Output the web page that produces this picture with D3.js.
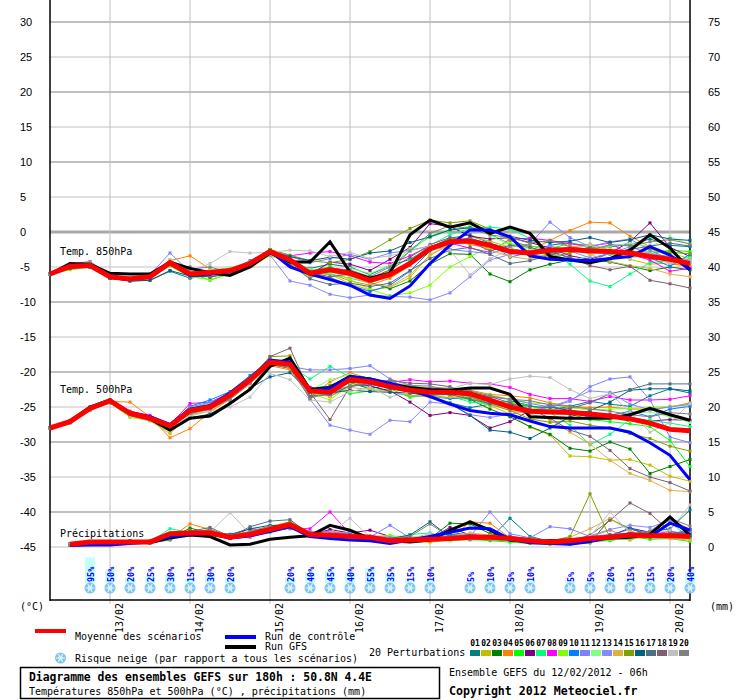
<!DOCTYPE html>
<html><head><meta charset="utf-8">
<script src="https://cdn.jsdelivr.net/npm/d3@7"></script>
<style>
body{margin:0;background:#fff}
svg{display:block}
text{font-family:"DejaVu Sans Mono",monospace}
</style>
</head><body>
<svg id="c" width="740" height="700"></svg>
<script>
// ---------------- DATA ----------------
const hours = d3.range(0, 193, 6);          // 12/02 06h + 0..192h
const precipHours = d3.range(6, 193, 6);
const dayHours = [18, 42, 66, 90, 114, 138, 162, 186];
const dayLabels = ["13/02","14/02","15/02","16/02","17/02","18/02","19/02","20/02"];
const tempTicks = [30,25,20,15,10,5,0,-5,-10,-15,-20,-25,-30,-35,-40,-45];
const precipTicks = [75,70,65,60,55,50,45,40,35,30,25,20,15,10,5,0];

const pertColors = ["#008080","#c0c000","#008000","#ff8000","#00ff00","#800080","#00ff80","#ff00ff","#80ff00","#0080ff",
                    "#8080ff","#80ff80","#8888ff","#e0b040","#80a000","#006080","#507080","#806070","#c0c0c0","#808080"];
const pertNames = ["01","02","03","04","05","06","07","08","09","10","11","12","13","14","15","16","17","18","19","20"];

const t850Mean = [-6.0,-4.9,-4.8,-6.4,-6.7,-6.4,-4.4,-6.0,-5.8,-5.5,-4.5,-2.8,-4.0,-5.9,-5.4,-5.9,-6.9,-6.1,-4.5,-2.4,-1.4,-1.3,-1.9,-2.8,-3.0,-2.6,-2.5,-2.7,-2.8,-3.0,-3.5,-3.9,-4.5];
const t850Ctrl = [-6.0,-5.0,-4.8,-6.5,-6.8,-6.3,-4.5,-6.2,-6.0,-5.6,-4.4,-2.7,-5.0,-6.0,-6.8,-7.6,-9.0,-9.5,-7.7,-4.5,-1.9,0.3,0.3,-0.7,-3.4,-3.9,-4.0,-4.1,-3.8,-3.5,-2.1,-3.3,-5.4];
const t850Gfs  = [-6.0,-4.5,-4.6,-5.9,-6.0,-6.0,-4.3,-5.2,-5.8,-6.2,-5.0,-3.0,-4.3,-4.3,-1.4,-5.7,-6.6,-5.9,-0.4,1.7,0.7,1.3,-0.2,0.7,-0.2,-3.5,-4.0,-4.4,-3.8,-2.6,-0.4,-2.3,-5.4];
const t850Pert = [
 [-6.0,-5.1,-4.6,-6.6,-7.0,-6.9,-5.6,-6.6,-6.2,-5.7,-4.6,-3.2,-4.6,-5.2,-4.6,-5.0,-6.1,-4.8,-3.9,-2.2,-0.9,-0.4,-1.6,-2.4,-2.9,-1.9,-1.5,-2.3,-2.1,-1.8,-1.0,-1.9,-2.1],
 [-6.0,-5.4,-5.0,-6.2,-6.6,-6.1,-4.7,-6.3,-6.1,-5.4,-4.2,-2.9,-4.4,-6.4,-6.0,-7.4,-8.3,-7.9,-6.5,-3.2,-1.9,-0.7,-1.3,-2.2,-3.5,-3.3,-2.2,-1.7,-2.6,-3.9,-4.6,-4.4,-5.1],
 [-6.0,-4.8,-4.4,-6.3,-6.8,-6.5,-4.2,-6.5,-5.5,-5.7,-4.4,-2.5,-3.8,-5.9,-5.1,-5.6,-7.2,-8.1,-7.0,-4.6,-3.1,-3.2,-6.0,-7.1,-5.4,-4.6,-4.0,-3.9,-4.3,-4.9,-5.5,-5.0,-5.4],
 [-6.0,-4.7,-4.5,-6.5,-6.6,-6.0,-4.1,-3.4,-5.3,-5.9,-4.7,-3.1,-3.7,-5.6,-5.9,-7.0,-7.6,-6.6,-4.8,-2.3,-1.1,-1.8,-2.3,-2.9,-2.7,-1.2,0.2,1.4,1.3,-0.6,-2.1,-4.6,-4.8],
 [-6.0,-5.0,-4.3,-6.2,-6.6,-6.3,-4.6,-5.8,-6.9,-5.9,-4.4,-2.9,-3.7,-5.5,-5.0,-6.1,-6.8,-5.5,-2.7,-0.6,0.3,0.7,-0.3,-1.7,-2.0,-2.4,-1.6,-2.0,-3.2,-3.6,-3.1,-2.6,-2.8],
 [-6.0,-5.2,-4.9,-6.6,-6.9,-6.4,-4.8,-6.2,-5.9,-5.8,-4.7,-3.0,-4.8,-6.1,-4.3,-4.6,-5.5,-3.9,-2.2,1.2,0.8,-0.6,-1.0,-0.8,-1.5,-2.3,-3.4,-3.9,-3.0,-1.4,1.3,-2.2,-3.5],
 [-6.0,-4.9,-5.1,-6.5,-6.7,-6.2,-4.0,-6.2,-5.7,-5.6,-4.6,-2.7,-4.1,-5.7,-6.0,-6.6,-7.3,-6.2,-4.1,-1.9,-0.4,0.5,0.7,0.4,-0.9,-2.8,-4.6,-7.0,-7.8,-6.0,-4.4,-4.1,-3.6],
 [-6.0,-4.8,-4.7,-6.4,-6.5,-6.3,-4.3,-6.0,-6.2,-5.2,-4.3,-2.7,-3.4,-3.0,-2.8,-3.4,-4.3,-4.5,-3.4,-2.0,-1.6,-2.3,-2.9,-1.0,-0.9,-1.2,-1.7,-2.0,-1.6,-3.2,-4.0,-5.6,-5.2],
 [-6.0,-5.3,-4.6,-6.4,-6.8,-6.4,-4.9,-6.4,-6.8,-6.0,-4.9,-3.4,-4.3,-6.6,-5.5,-6.8,-8.2,-9.1,-8.7,-7.6,-5.0,-3.5,-2.2,-1.5,-2.8,-3.1,-2.4,-1.9,-2.6,-3.3,-2.7,-3.0,-3.8],
 [-6.0,-5.0,-4.8,-6.3,-6.7,-6.6,-4.7,-5.9,-6.0,-5.5,-4.1,-2.6,-4.2,-6.3,-6.5,-7.6,-8.5,-7.6,-5.6,-2.7,-1.2,-0.9,-1.7,-3.6,-2.9,-2.6,-3.8,-4.2,-3.0,-2.5,-3.7,-4.9,-3.2],
 [-6.0,-4.6,-4.2,-6.1,-6.5,-6.1,-3.0,-5.7,-5.6,-5.3,-4.2,-2.6,-3.5,-4.4,-3.8,-3.2,-3.9,-3.0,-2.6,-2.0,-2.5,-2.8,-3.1,-2.2,-1.7,1.4,-0.8,-2.1,-1.4,-1.0,-2.6,-4.0,-4.4],
 [-6.0,-4.9,-4.9,-6.6,-6.9,-6.5,-4.5,-6.1,-5.4,-5.1,-4.3,-3.2,-4.5,-5.3,-5.8,-5.2,-5.9,-4.8,-2.4,-0.8,0.2,0.9,-0.5,-1.9,-2.5,-3.0,-4.1,-3.4,-2.0,-1.6,-2.1,-0.7,-1.8],
 [-6.0,-5.1,-4.7,-6.6,-6.9,-6.5,-4.3,-6.4,-6.3,-6.0,-4.7,-3.3,-7.0,-7.6,-8.9,-9.4,-9.0,-9.2,-9.3,-9.7,-8.7,-6.4,-4.0,-3.2,-2.8,-2.0,-2.7,-3.7,-3.1,-2.1,-3.1,-3.5,-4.0],
 [-6.0,-4.8,-4.4,-6.2,-6.5,-6.2,-4.0,-5.6,-5.6,-5.7,-4.8,-3.0,-4.0,-6.2,-5.7,-6.3,-7.4,-7.8,-6.1,-3.4,-1.7,-1.1,-2.6,-3.5,-3.9,-3.1,-2.0,-3.2,-4.2,-4.8,-5.2,-6.0,-6.4],
 [-6.0,-5.0,-4.5,-6.3,-6.6,-6.3,-4.4,-6.2,-6.1,-5.6,-4.5,-2.5,-3.3,-4.1,-4.4,-3.9,-2.8,-1.1,0.5,1.7,1.3,1.6,0.4,-1.2,-2.1,-3.6,-3.0,-2.2,-2.8,-3.3,-2.4,-2.9,-3.1],
 [-6.0,-5.2,-5.0,-6.6,-7.0,-6.9,-5.5,-6.3,-6.4,-6.0,-4.6,-2.9,-3.5,-4.1,-3.6,-3.9,-3.0,-2.7,-1.5,-0.7,0.3,0.6,0.1,-0.6,-1.2,-1.5,-1.3,-0.8,-1.5,-1.1,-0.4,-1.0,-1.2],
 [-6.0,-4.7,-4.6,-6.4,-6.7,-6.3,-4.6,-6.2,-5.9,-5.5,-4.5,-2.9,-4.6,-6.7,-7.5,-7.3,-7.8,-7.3,-5.5,-3.8,-2.6,-2.2,-3.2,-4.5,-4.1,-3.3,-2.6,-2.3,-2.9,-2.5,-2.0,-1.6,-2.0],
 [-6.0,-4.8,-4.9,-6.5,-6.6,-6.1,-4.6,-5.0,-6.5,-5.7,-4.6,-3.0,-4.1,-5.8,-6.4,-6.0,-6.6,-5.4,-3.6,-1.8,-0.8,-1.4,-2.7,-1.9,-2.2,-2.9,-3.6,-4.8,-5.4,-4.9,-6.9,-7.4,-8.0],
 [-6.0,-4.9,-4.7,-6.2,-6.5,-6.0,-4.7,-5.7,-4.5,-2.8,-3.0,-2.9,-2.6,-2.7,-3.5,-2.9,-3.8,-3.4,-2.7,-2.0,-2.6,-6.1,-3.8,-2.5,-2.9,-3.9,-2.5,-1.8,-3.0,-3.7,-3.2,-4.5,-4.1],
 [-6.0,-5.1,-4.8,-6.5,-6.7,-6.3,-4.6,-5.3,-5.0,-5.8,-4.6,-2.8,-4.2,-5.6,-5.2,-5.4,-6.4,-5.0,-2.7,-0.2,0.9,0.5,-0.4,-0.8,-1.6,-1.2,-2.1,-2.6,-1.8,-2.0,-1.4,-1.1,-1.7]
];

const t500Mean = [-28.0,-27.1,-25.2,-24.1,-25.9,-26.6,-27.7,-25.5,-25.0,-23.3,-21.1,-18.6,-18.9,-22.7,-22.9,-21.1,-21.4,-22.1,-22.6,-22.9,-22.9,-23.1,-24.0,-25.0,-25.6,-25.7,-25.8,-26.0,-26.3,-26.7,-27.3,-28.2,-28.4];
const t500Ctrl = [-28.0,-27.1,-25.1,-24.1,-25.8,-26.4,-27.5,-25.3,-24.8,-23.0,-20.9,-18.3,-18.6,-22.7,-22.3,-20.7,-21.0,-21.6,-22.5,-23.5,-24.6,-25.5,-25.9,-26.1,-27.0,-27.8,-28.0,-28.0,-28.0,-28.6,-30.1,-31.9,-35.4];
const t500Gfs  = [-28.0,-27.0,-25.0,-24.0,-25.9,-26.7,-28.3,-26.6,-26.3,-24.5,-22.5,-19.2,-18.0,-22.5,-22.2,-20.6,-21.0,-21.7,-22.2,-22.5,-22.6,-22.3,-22.3,-23.2,-26.4,-26.5,-26.6,-26.6,-26.6,-26.1,-25.2,-26.1,-26.9];
const t500Pert = [
 [-28.0,-27.0,-25.3,-24.2,-26.0,-26.5,-27.9,-25.8,-25.1,-23.6,-21.3,-18.5,-18.8,-22.4,-23.5,-21.9,-22.0,-22.8,-23.4,-23.5,-24.4,-25.1,-24.6,-24.1,-24.8,-25.5,-24.9,-24.2,-24.6,-24.9,-23.4,-22.4,-23.0],
 [-28.0,-27.2,-25.4,-24.0,-25.8,-26.7,-28.4,-25.6,-24.8,-23.0,-20.9,-18.3,-18.6,-22.9,-23.0,-20.5,-21.0,-21.6,-22.3,-22.8,-23.3,-23.8,-24.8,-26.0,-27.9,-29.0,-32.0,-32.1,-32.6,-32.5,-33.3,-34.9,-35.6],
 [-28.0,-27.1,-25.0,-24.3,-26.2,-26.9,-28.0,-25.3,-24.9,-23.4,-21.2,-18.9,-19.5,-23.6,-22.6,-21.5,-22.4,-21.8,-22.5,-23.0,-22.7,-23.9,-25.3,-26.4,-27.8,-28.9,-30.9,-31.3,-30.0,-31.0,-34.5,-33.5,-32.5],
 [-28.0,-27.1,-25.0,-24.2,-24.3,-26.4,-29.4,-28.1,-25.7,-23.9,-21.7,-19.1,-19.7,-23.6,-21.4,-20.1,-21.0,-21.6,-21.9,-22.6,-22.8,-22.6,-23.2,-23.4,-23.7,-24.4,-24.9,-25.1,-25.0,-25.3,-25.3,-25.0,-24.4],
 [-28.0,-27.2,-25.3,-24.2,-26.3,-26.8,-28.0,-25.8,-25.3,-23.4,-21.2,-18.4,-18.5,-22.3,-22.0,-23.1,-22.7,-22.4,-23.6,-23.3,-23.7,-23.9,-24.2,-24.3,-24.8,-25.5,-26.0,-26.8,-27.1,-27.4,-27.8,-29.8,-33.5],
 [-28.0,-27.0,-25.2,-24.0,-26.0,-26.5,-27.8,-25.6,-25.1,-23.3,-21.0,-18.7,-18.9,-22.2,-22.5,-21.4,-22.0,-22.7,-24.3,-26.2,-25.8,-26.2,-28.0,-27.1,-25.5,-25.0,-25.5,-25.8,-26.1,-26.5,-27.0,-26.8,-26.9],
 [-28.0,-27.2,-25.4,-24.3,-26.2,-26.9,-27.6,-25.2,-24.4,-23.1,-20.8,-18.5,-19.1,-21.0,-19.2,-20.7,-21.5,-22.1,-22.3,-22.6,-23.4,-24.3,-24.6,-25.0,-24.8,-25.8,-27.6,-30.4,-28.9,-26.8,-26.9,-27.3,-27.8],
 [-28.0,-27.0,-25.1,-24.1,-25.6,-26.2,-27.5,-24.5,-24.3,-23.0,-21.0,-18.4,-18.6,-22.2,-23.3,-21.3,-21.2,-21.5,-21.1,-21.4,-21.3,-21.6,-21.7,-22.2,-23.2,-23.8,-23.8,-24.2,-23.5,-24.0,-24.0,-23.9,-23.4],
 [-28.0,-27.2,-25.3,-24.4,-26.5,-26.9,-28.6,-26.2,-25.3,-23.6,-21.3,-18.7,-19.3,-23.0,-24.0,-21.8,-21.3,-21.5,-22.0,-22.2,-22.4,-22.9,-23.3,-23.9,-24.4,-24.6,-25.1,-25.4,-25.3,-25.2,-25.1,-24.9,-24.7],
 [-28.0,-27.1,-25.2,-24.1,-25.9,-26.6,-27.7,-24.9,-24.0,-22.8,-20.5,-18.4,-19.0,-22.4,-22.1,-21.3,-21.6,-22.3,-22.9,-23.5,-23.8,-23.6,-24.5,-25.1,-25.6,-24.7,-25.9,-26.4,-26.2,-25.6,-26.4,-25.3,-24.9],
 [-28.0,-27.2,-25.1,-24.0,-25.8,-26.4,-27.5,-25.0,-24.3,-23.1,-21.1,-18.2,-19.2,-19.7,-19.7,-19.5,-19.1,-21.0,-21.9,-22.0,-22.6,-22.9,-23.6,-23.9,-24.5,-25.0,-24.2,-22.1,-21.0,-20.7,-24.0,-29.3,-30.1],
 [-28.0,-27.1,-25.3,-24.2,-25.9,-26.5,-27.6,-25.4,-24.7,-23.0,-20.9,-18.5,-18.8,-22.6,-21.1,-20.4,-20.9,-21.8,-22.2,-22.4,-23.1,-23.6,-24.1,-24.7,-25.2,-25.3,-25.6,-25.9,-26.3,-26.0,-25.7,-26.4,-27.2],
 [-28.0,-27.0,-25.3,-24.3,-26.1,-26.7,-27.9,-25.8,-25.4,-23.6,-21.5,-19.0,-19.0,-23.9,-27.6,-28.3,-28.9,-26.9,-27.1,-24.3,-24.6,-26.1,-26.5,-26.0,-25.6,-25.0,-24.0,-22.7,-22.9,-24.6,-25.4,-25.0,-24.6],
 [-28.0,-27.3,-25.5,-24.4,-26.3,-27.0,-28.8,-26.1,-25.6,-23.8,-21.4,-18.8,-19.4,-23.0,-23.5,-22.2,-22.5,-22.8,-23.3,-23.6,-23.6,-23.8,-24.5,-25.5,-26.0,-26.8,-28.6,-30.3,-32.6,-34.5,-35.5,-36.9,-37.1],
 [-28.0,-27.1,-25.3,-24.1,-26.0,-26.6,-27.8,-25.3,-24.8,-23.2,-20.9,-17.8,-17.7,-23.5,-21.9,-21.0,-21.2,-21.9,-22.4,-22.7,-23.0,-23.5,-24.6,-25.5,-26.7,-27.2,-27.0,-27.6,-28.0,-28.8,-29.5,-30.6,-31.3],
 [-28.0,-27.0,-25.4,-24.4,-26.2,-26.8,-28.2,-26.6,-26.0,-24.4,-22.3,-20.7,-20.1,-22.9,-23.0,-22.6,-22.8,-22.9,-23.0,-23.4,-24.5,-26.2,-28.3,-28.6,-29.5,-28.0,-26.4,-25.5,-24.3,-22.6,-22.4,-22.4,-22.7],
 [-28.0,-27.1,-25.2,-24.0,-25.9,-26.6,-27.9,-26.0,-25.2,-23.8,-21.5,-18.5,-18.2,-23.5,-23.2,-22.0,-21.8,-22.2,-22.8,-23.3,-23.2,-23.9,-24.5,-24.6,-24.9,-25.1,-25.2,-24.4,-23.1,-22.5,-21.7,-21.7,-21.7],
 [-28.0,-27.2,-25.2,-24.2,-26.0,-26.5,-27.8,-25.7,-25.2,-23.5,-21.4,-17.8,-16.6,-22.9,-26.8,-22.1,-21.6,-21.2,-21.6,-21.7,-22.1,-23.0,-23.5,-24.4,-25.3,-26.6,-28.3,-29.2,-31.2,-33.8,-35.0,-35.8,-37.0],
 [-28.0,-27.3,-25.4,-24.3,-26.2,-26.7,-27.9,-26.3,-25.6,-25.0,-23.6,-20.2,-21.1,-24.0,-24.3,-22.8,-22.2,-23.6,-22.8,-23.2,-22.4,-21.6,-21.8,-21.0,-20.6,-20.8,-22.5,-23.8,-23.1,-25.7,-28.6,-27.2,-24.5],
 [-28.0,-27.1,-25.3,-24.1,-26.0,-26.7,-27.8,-25.8,-25.3,-23.9,-21.6,-19.0,-19.3,-23.8,-22.8,-22.0,-21.5,-21.2,-22.4,-22.3,-22.3,-22.7,-23.4,-23.9,-24.1,-24.7,-24.9,-25.3,-25.6,-26.1,-26.4,-25.8,-26.0]
];

const precMean = [0.4,0.7,0.7,0.7,0.7,1.9,2.0,2.0,1.4,1.8,2.5,3.2,1.8,1.7,1.5,1.4,0.9,1.0,1.1,1.2,1.4,1.4,1.2,0.9,0.7,0.9,1.2,1.4,1.7,1.6,1.6,1.5];
const precCtrl = [0.2,0.3,0.3,0.5,0.7,1.5,1.8,1.9,1.3,1.6,2.2,2.9,1.5,1.2,1.0,0.9,0.5,1.0,1.5,2.1,2.7,2.6,1.1,0.6,0.5,0.4,0.8,1.3,1.9,1.5,3.4,2.4];
const precGfs  = [0.3,0.5,0.6,0.8,0.6,1.3,1.7,1.5,0.3,0.4,1.1,1.4,1.6,3.1,2.4,1.2,0.9,0.7,1.0,2.4,3.6,2.4,1.0,0.8,0.9,1.0,1.1,1.3,1.4,1.8,4.3,1.7];
const precPert = [
 [0.3,0.6,0.7,0.8,0.6,1.0,2.3,2.1,1.3,1.7,2.4,2.9,1.7,1.9,1.6,1.3,0.9,1.2,1.5,1.8,1.6,1.2,4.1,1.5,0.8,0.6,1.0,1.6,1.9,2.2,2.6,5.3],
 [0.4,0.7,0.8,0.6,0.8,1.4,1.8,2.4,1.6,1.5,2.7,3.1,1.6,1.5,1.2,1.1,1.5,0.8,0.7,1.0,1.4,1.7,1.0,0.7,0.4,0.6,0.9,1.3,1.0,1.8,1.5,1.3],
 [0.3,0.5,0.7,0.9,0.7,1.2,2.7,2.0,1.2,1.9,2.3,3.3,1.9,1.4,1.6,1.2,1.0,1.3,1.2,3.4,3.3,1.9,1.5,1.1,0.5,0.4,0.6,4.0,2.6,1.7,1.9,1.5],
 [0.4,0.8,0.7,0.7,0.9,1.3,3.3,2.5,1.5,2.1,2.9,3.6,2.0,2.3,1.8,1.5,1.6,0.9,0.8,1.0,3.6,3.4,1.3,0.9,0.7,1.0,1.5,2.4,1.3,1.9,2.0,1.8],
 [0.3,0.6,0.6,0.7,0.6,1.5,2.0,1.5,1.7,1.9,2.3,3.0,1.8,1.5,1.3,1.2,1.0,0.8,1.0,0.9,1.1,0.9,0.7,0.5,0.4,0.5,0.8,0.9,1.5,1.1,1.2,0.8],
 [0.4,0.7,0.7,0.8,0.7,1.3,1.9,2.2,1.6,2.6,2.4,3.1,1.7,2.5,2.0,2.4,1.5,1.3,1.2,2.8,1.7,1.6,1.2,0.8,0.9,1.0,1.3,1.6,2.7,2.1,3.9,2.5],
 [0.3,0.5,0.6,0.7,0.8,2.6,2.1,1.9,1.3,1.6,2.1,2.8,1.5,1.7,1.3,1.0,0.9,1.8,2.0,1.3,1.0,1.1,0.8,0.6,0.5,0.4,0.9,1.0,1.2,1.6,3.6,1.2],
 [0.5,0.8,0.8,0.7,0.8,1.2,1.8,1.9,1.2,1.4,2.2,2.7,2.6,5.0,1.9,1.5,1.2,1.1,1.3,1.5,1.8,1.6,1.4,1.2,0.8,0.7,1.0,1.6,2.0,1.9,2.2,1.9],
 [0.3,0.6,0.6,0.7,0.7,1.1,2.3,2.2,1.6,1.5,2.6,3.4,1.6,1.6,1.4,1.2,1.7,1.1,0.9,1.2,1.3,1.4,1.1,0.7,0.6,0.6,0.7,1.1,1.6,1.5,1.4,1.2],
 [0.4,0.6,0.7,0.8,0.6,1.4,2.1,1.9,1.8,2.0,2.5,3.2,1.8,1.5,1.7,1.4,1.1,1.3,1.5,2.1,1.7,1.2,1.1,0.9,0.6,0.8,1.1,1.6,2.6,1.9,1.7,2.2],
 [0.3,0.6,0.8,0.7,0.6,1.6,2.2,2.3,1.5,2.2,2.3,3.0,2.2,2.2,1.8,1.4,3.1,1.3,1.6,1.4,1.5,5.0,1.9,1.3,2.9,2.6,1.5,1.8,2.0,1.7,3.4,2.0],
 [0.4,0.7,0.7,0.6,0.7,1.3,1.9,2.6,1.5,1.7,2.8,3.3,1.6,1.8,1.4,1.3,1.5,1.6,1.1,0.9,1.0,1.2,1.3,1.0,0.8,0.6,0.9,1.4,1.3,1.6,1.8,1.6],
 [0.4,0.7,0.6,0.8,0.7,1.5,1.9,2.0,1.4,1.5,2.4,2.9,1.9,1.9,2.1,1.6,1.4,0.9,1.2,1.3,1.3,1.5,1.0,0.8,0.6,0.7,1.6,2.5,3.1,2.8,3.8,2.5],
 [0.4,0.7,0.7,0.7,0.8,1.4,2.2,2.0,1.6,2.2,3.0,3.5,1.7,1.6,1.5,1.1,1.0,1.2,1.1,1.4,2.0,1.7,1.2,0.8,0.7,1.4,2.6,4.1,2.3,1.5,1.2,1.0],
 [0.3,0.6,0.7,0.8,0.6,1.1,2.4,2.1,1.5,1.8,2.8,3.6,2.1,1.8,1.7,1.3,1.0,0.9,1.0,1.1,1.2,1.0,1.1,0.7,0.8,1.5,7.6,1.3,1.6,1.3,1.9,1.4],
 [0.4,0.6,0.7,0.7,0.8,1.3,2.1,2.2,1.8,2.6,3.1,3.0,1.9,1.7,1.5,1.2,1.2,1.7,3.6,1.4,1.6,1.5,1.0,0.9,0.7,0.8,1.1,1.7,1.8,1.5,1.6,1.6],
 [0.3,0.6,0.6,0.8,0.7,1.2,2.0,2.5,1.4,2.9,3.7,3.9,1.8,1.6,1.8,1.5,1.2,1.0,1.2,1.6,1.5,1.3,1.2,1.0,0.7,0.9,1.2,1.6,1.5,2.0,1.8,2.5],
 [0.4,0.7,0.7,0.8,0.7,1.3,2.2,2.8,1.5,1.6,2.4,2.9,1.6,1.8,1.5,1.2,1.0,1.1,1.4,1.2,1.1,1.3,1.5,1.2,0.9,0.8,1.7,3.8,6.3,4.8,2.2,1.8],
 [0.4,0.6,0.7,0.7,0.7,1.2,1.7,2.1,4.9,1.9,2.3,3.1,1.7,2.0,4.1,1.4,1.1,1.2,1.9,1.3,1.2,1.2,1.1,0.8,0.6,0.7,1.5,5.0,2.0,1.8,2.4,6.0],
 [0.3,0.7,0.6,0.8,0.7,1.3,2.0,2.4,1.7,2.2,3.0,2.6,2.0,1.8,1.6,1.3,1.2,1.5,3.3,1.4,1.3,1.4,1.2,0.9,0.7,0.6,1.2,1.5,1.7,2.3,4.1,3.0]
];

const snowHours = [12,18,24,30,36,42,48,54,72,78,84,90,96,102,108,114,126,132,138,144,156,162,168,174,180,186,192];
const snowPct   = [95,50,20,25,30,15,30,20,20,40,45,40,55,35,15,10,5,10,5,10,5,5,20,15,15,20,40];

// ---------------- SCALES ----------------
const svg = d3.select("#c");
const x  = d3.scaleLinear().domain([0,192]).range([50,690]);
const yT = d3.scaleLinear().domain([-45,30]).range([547,22]);
const yP = d3.scaleLinear().domain([0,75]).range([547,22]);

// ---------------- GRID ----------------
const grid = svg.append("g");
tempTicks.forEach(v => {
  const thick = v % 10 === 0;
  grid.append("line").attr("x1",50).attr("x2",690).attr("y1",yT(v)).attr("y2",yT(v))
    .attr("stroke", v===0 ? "#a8a8a8" : "#c0c0c0")
    .attr("stroke-width", v===0 ? 3 : (thick ? 2.2 : 1));
});
dayHours.forEach(h => {
  grid.append("line").attr("x1",x(h)).attr("x2",x(h)).attr("y1",0).attr("y2",604)
    .attr("stroke","#c0c0c0").attr("stroke-width",1);
});

// ---------------- AXES ----------------
const axL = svg.append("g").attr("transform","translate(50,0)")
  .call(d3.axisLeft(yT).tickValues(tempTicks).tickSize(0).tickFormat(d => String(d)));
axL.select(".domain").remove();
axL.selectAll("text").attr("x",-30).attr("dy","0.35em").attr("text-anchor","start")
  .style("font-family","'Liberation Sans',Arial,sans-serif").style("font-size","11px").attr("fill","#000");

const axR = svg.append("g").attr("transform","translate(690,0)")
  .call(d3.axisRight(yP).tickValues(precipTicks).tickSize(0).tickFormat(d => String(d)));
axR.select(".domain").remove();
axR.selectAll("text").attr("x",18).attr("dy","0.35em").attr("text-anchor","start")
  .style("font-family","'Liberation Sans',Arial,sans-serif").style("font-size","11px").attr("fill","#000");

const axB = svg.append("g").attr("transform","translate(0,600)")
  .call(d3.axisBottom(x).tickValues(dayHours).tickSize(0).tickFormat((d,i) => dayLabels[i]));
axB.select(".domain").remove();
axB.selectAll("text").attr("transform","rotate(-90)").attr("x",-3).attr("y",12).attr("dy",0)
  .attr("text-anchor","end").style("font-family","'DejaVu Sans Mono',monospace").style("font-size","10px").attr("fill","#000");

svg.append("line").attr("x1",50).attr("x2",50).attr("y1",0).attr("y2",601).attr("stroke","#000").attr("stroke-width",1.5);
svg.append("line").attr("x1",690).attr("x2",690).attr("y1",0).attr("y2",601).attr("stroke","#000").attr("stroke-width",1.5);
svg.append("line").attr("x1",50).attr("x2",690).attr("y1",600).attr("y2",600).attr("stroke","#000").attr("stroke-width",1.5);

svg.append("text").attr("x",20).attr("y",610).attr("font-size",10).text("(°C)");
svg.append("text").attr("x",710).attr("y",610).attr("font-size",10).text("(mm)");

// ---------------- SERIES ----------------
const lineT = d3.line().x((d,i) => x(hours[i])).y(d => yT(d));
const lineP = d3.line().x((d,i) => x(precipHours[i])).y(d => yP(d));
const plot = svg.append("g");

function drawPert(data, gen, xs, ys) {
  data.forEach((s,k) => {
    plot.append("path").attr("d", gen(s)).attr("fill","none")
      .attr("stroke", pertColors[k]).attr("stroke-width",1);
    plot.append("g").selectAll("rect").data(s).join("rect")
      .attr("x",(d,i) => x(xs[i]) - 1.5).attr("y", d => ys(d) - 1.5)
      .attr("width",3).attr("height",3).attr("fill", pertColors[k]);
  });
}
function drawMain(s, gen) {
  plot.append("path").attr("d", gen(s[0])).attr("fill","none").attr("stroke","#000").attr("stroke-width",3);
  plot.append("path").attr("d", gen(s[1])).attr("fill","none").attr("stroke","#0000ff").attr("stroke-width",3);
  plot.append("path").attr("d", gen(s[2])).attr("fill","none").attr("stroke","#ff0000").attr("stroke-width",5);
}
drawPert(t850Pert, lineT, hours, yT);
drawMain([t850Gfs, t850Ctrl, t850Mean], lineT);
drawPert(t500Pert, lineT, hours, yT);
drawMain([t500Gfs, t500Ctrl, t500Mean], lineT);
drawPert(precPert, lineP, precipHours, yP);
drawMain([precGfs, precCtrl, precMean], lineP);

svg.append("text").attr("x",60).attr("y",255).attr("font-size",10).text("Temp. 850hPa");
svg.append("text").attr("x",60).attr("y",393).attr("font-size",10).text("Temp. 500hPa");
svg.append("text").attr("x",60).attr("y",537).attr("font-size",10).text("Précipitations");

// ---------------- SNOW RISK ----------------
function flake(g, cx, cy) {
  const f = g.append("g").attr("transform",`translate(${cx},${cy})`);
  f.append("circle").attr("r",5.5).attr("fill","#7cc4ec");
  [0,60,120].forEach(a => {
    f.append("line").attr("x1",-4.5).attr("x2",4.5).attr("y1",0).attr("y2",0)
      .attr("transform",`rotate(${a})`).attr("stroke","#e8f8ff").attr("stroke-width",1);
  });
  f.append("circle").attr("r",2).attr("fill","none").attr("stroke","#e8f8ff").attr("stroke-width",0.8);
}
const snow = svg.append("g");
snowHours.forEach((h,k) => {
  const cx = x(h), p = snowPct[k];
  snow.append("rect").attr("x",cx-5).attr("y",583 - p*0.27).attr("width",10).attr("height",p*0.27).attr("fill","#c4ffff");
  snow.append("text").attr("transform",`translate(${cx+3.5},582) rotate(-90)`)
    .attr("font-size",8.5).attr("font-weight","bold").attr("fill","#0000ff").text(p + "%");
  flake(snow, cx, 588);
});

// ---------------- LEGEND ----------------
const leg = svg.append("g");
leg.append("rect").attr("x",35).attr("y",629).attr("width",31).attr("height",4).attr("fill","#ff0000");
leg.append("text").attr("x",75).attr("y",640).attr("font-size",10).text("Moyenne des scénarios");
leg.append("rect").attr("x",225).attr("y",635).attr("width",31).attr("height",4).attr("fill","#0000ff");
leg.append("text").attr("x",265).attr("y",640).attr("font-size",10).text("Run de contrôle");
leg.append("rect").attr("x",225).attr("y",645).attr("width",31).attr("height",4).attr("fill","#000");
leg.append("text").attr("x",265).attr("y",650).attr("font-size",10).text("Run GFS");
flake(leg, 60.5, 658);
leg.append("text").attr("x",75).attr("y",662).attr("font-size",10).text("Risque neige (par rapport a tous les scénarios)");
leg.append("text").attr("x",369).attr("y",656).attr("font-size",10).text("20 Perturbations");
pertColors.forEach((c,k) => {
  leg.append("rect").attr("x",470 + k*11).attr("y",650).attr("width",10).attr("height",6).attr("fill",c);
  leg.append("text").attr("x",475 + k*11).attr("y",646).attr("text-anchor","middle")
    .attr("font-size",8).attr("font-weight","bold").text(pertNames[k]);
});

leg.append("rect").attr("x",20.5).attr("y",667.5).attr("width",419).attr("height",31).attr("fill","none").attr("stroke","#000").attr("stroke-width",1.5);
leg.append("text").attr("x",29).attr("y",681).attr("font-size",11.4).attr("font-weight","bold")
  .text("Diagramme des ensembles GEFS sur 180h : 50.8N 4.4E");
leg.append("text").attr("x",29).attr("y",695).attr("font-size",10)
  .text("Températures 850hPa et 500hPa (°C) , précipitations (mm)");
leg.append("text").attr("x",449).attr("y",676).attr("font-size",10).text("Ensemble GEFS du 12/02/2012 - 06h");
leg.append("text").attr("x",449).attr("y",695).attr("font-size",11.6).attr("font-weight","bold").text("Copyright 2012 Meteociel.fr");
</script>
</body></html>
